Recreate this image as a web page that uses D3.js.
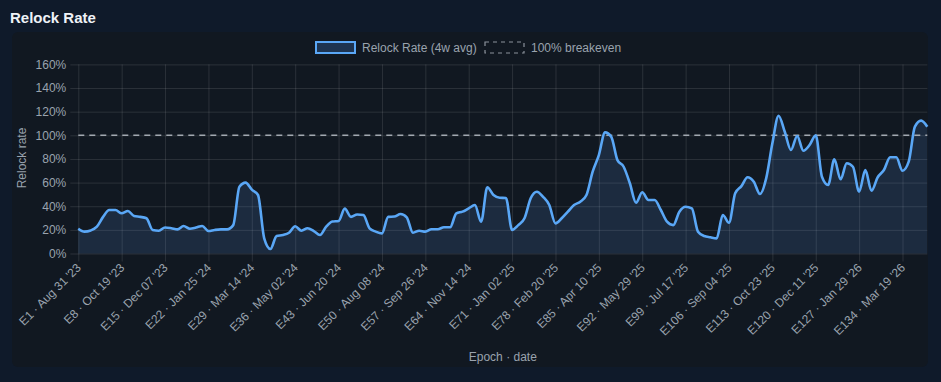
<!DOCTYPE html>
<html><head><meta charset="utf-8">
<script src="https://cdn.jsdelivr.net/npm/d3@7"></script>
<style>
html,body{margin:0;padding:0;background:#0f1a2a;}
svg{display:block;font-family:"Liberation Sans",Arial,Helvetica,sans-serif;}
</style></head>
<body>
<svg id="c" width="941" height="382"></svg>
<script>
// ---- data ----
const epochs = d3.range(1, 139); // E1..E138
const relockRate = [
 21,18.5,19.5,22.7,31,36.8,36.8,34,36,31.7,31,29.8,19.9,19.3,22,21.4,20.4,23.3,21,22,
 23.3,19,19.9,20.4,20.4,24,56.5,60,54,49.5,12.8,3.8,14.8,15.6,17.6,23,19.3,21.4,19,15.6,
 22.7,27,27.5,38,31,33,32.5,21.3,18.5,17,31,31.3,33.4,30.6,17.6,19.3,18.5,20.5,20.5,22.2,
 22.2,34,35.4,38.2,41,26.9,56,49.5,47.2,47,19.9,24,29.8,46.7,52.3,48,41,25.5,29.8,35.4,
 41,43.8,49.5,69.2,83.3,102.5,98.8,79,73.4,59.4,43,51.8,45.3,45.3,36.8,26.9,24,35.4,39.6,38.2,
 18.5,14.8,13.7,12.8,32.6,26,50.9,57,64.5,60.7,50.3,63.6,93.2,116.6,103,87.6,99.4,87,91.8,100,
 65,58,79.7,62.8,76.3,73.4,52.3,70.6,53.1,64.5,70.6,81.4,81.4,70,77.7,107.3,112.4,107.3
];
const breakeven = 100;
const tickEpochs = [1,8,15,22,29,36,43,50,57,64,71,78,85,92,99,106,113,120,127,134];
const tickLabels = [
 "E1 · Aug 31 '23","E8 · Oct 19 '23","E15 · Dec 07 '23","E22 · Jan 25 '24","E29 · Mar 14 '24",
 "E36 · May 02 '24","E43 · Jun 20 '24","E50 · Aug 08 '24","E57 · Sep 26 '24","E64 · Nov 14 '24",
 "E71 · Jan 02 '25","E78 · Feb 20 '25","E85 · Apr 10 '25","E92 · May 29 '25","E99 · Jul 17 '25",
 "E106 · Sep 04 '25","E113 · Oct 23 '25","E120 · Dec 11 '25","E127 · Jan 29 '26","E134 · Mar 19 '26"
];
const yTicks = [0,20,40,60,80,100,120,140,160];

// ---- layout ----
const svg = d3.select("#c");
const L = 78.3, R = 927.3, T = 64.4, B = 253.5;
const gridColor = "rgba(255,255,255,0.11)";
const textColor = "#9aa3ae";

svg.append("rect").attr("x",12).attr("y",32).attr("width",916).attr("height",335)
  .attr("rx",6).attr("fill","#111821");

svg.append("text").attr("x",10).attr("y",23).attr("fill","#eef2f7")
  .attr("font-size",15).attr("font-weight","bold").text("Relock Rate");

const x = d3.scalePoint().domain(epochs).range([L, R]);
const y = d3.scaleLinear().domain([0,160]).range([B, T]);

// y grid + ticks
const yAxis = d3.axisLeft(y).tickValues(yTicks).tickSize(-(R - L) - 8).tickPadding(4)
  .tickFormat(d => d + "%");
const gy = svg.append("g").attr("transform", `translate(${L - 0},0)`).call(yAxis);
gy.select(".domain").remove();
gy.selectAll(".tick line").attr("stroke", gridColor).attr("x1", -8).attr("x2", R - L);
gy.selectAll(".tick text").attr("fill", textColor).attr("font-size", 12)
  .attr("x", -12).style("font-family","Liberation Sans, Arial, sans-serif");

// x grid + ticks
const xAxis = d3.axisBottom(x).tickValues(tickEpochs).tickFormat((d,i) => tickLabels[i]);
const gx = svg.append("g").attr("transform", `translate(0,${B})`).call(xAxis);
gx.select(".domain").remove();
gx.selectAll(".tick line").attr("stroke", gridColor).attr("y1", -(B - T)).attr("y2", 8);
gx.selectAll(".tick text").attr("fill", textColor).attr("font-size", 12)
  .attr("text-anchor","end").attr("dy","0.35em").attr("y",0)
  .attr("transform","translate(0,12) rotate(-45)")
  .style("font-family","Liberation Sans, Arial, sans-serif");

// area + line
const curve = d3.curveMonotoneX;
const area = d3.area().x((d,i) => x(epochs[i])).y0(y(0)).y1(d => y(d)).curve(curve);
const line = d3.line().x((d,i) => x(epochs[i])).y(d => y(d)).curve(curve);
svg.append("path").datum(relockRate).attr("d", area).attr("fill","rgba(96,165,250,0.14)");

// breakeven
svg.append("line").attr("x1", L).attr("x2", R).attr("y1", y(breakeven)).attr("y2", y(breakeven))
  .attr("stroke","#a3a9b1").attr("stroke-width",1.5).attr("stroke-dasharray","6,5");

svg.append("path").datum(relockRate).attr("d", line).attr("fill","none")
  .attr("stroke","#5aa7f6").attr("stroke-width",2.6).attr("stroke-linejoin","round");

// axis titles
svg.append("text").attr("transform","translate(26,158) rotate(-90)").attr("text-anchor","middle")
  .attr("fill", textColor).attr("font-size",12).text("Relock rate");
svg.append("text").attr("x",(L+R)/2).attr("y",361).attr("text-anchor","middle")
  .attr("fill", textColor).attr("font-size",12).text("Epoch · date");

// legend
const lg = svg.append("g");
lg.append("rect").attr("x",316).attr("y",42).attr("width",39).attr("height",11)
  .attr("fill","#1e3451").attr("stroke","#5aa7f6").attr("stroke-width",2);
lg.append("text").attr("x",362).attr("y",52).attr("fill", textColor).attr("font-size",12)
  .text("Relock Rate (4w avg)");
lg.append("rect").attr("x",485).attr("y",42).attr("width",39).attr("height",11)
  .attr("fill","none").attr("stroke","#8b929b").attr("stroke-width",1.2).attr("stroke-dasharray","4,4");
lg.append("text").attr("x",531).attr("y",52).attr("fill", textColor).attr("font-size",12)
  .text("100% breakeven");
</script>
</body></html>
